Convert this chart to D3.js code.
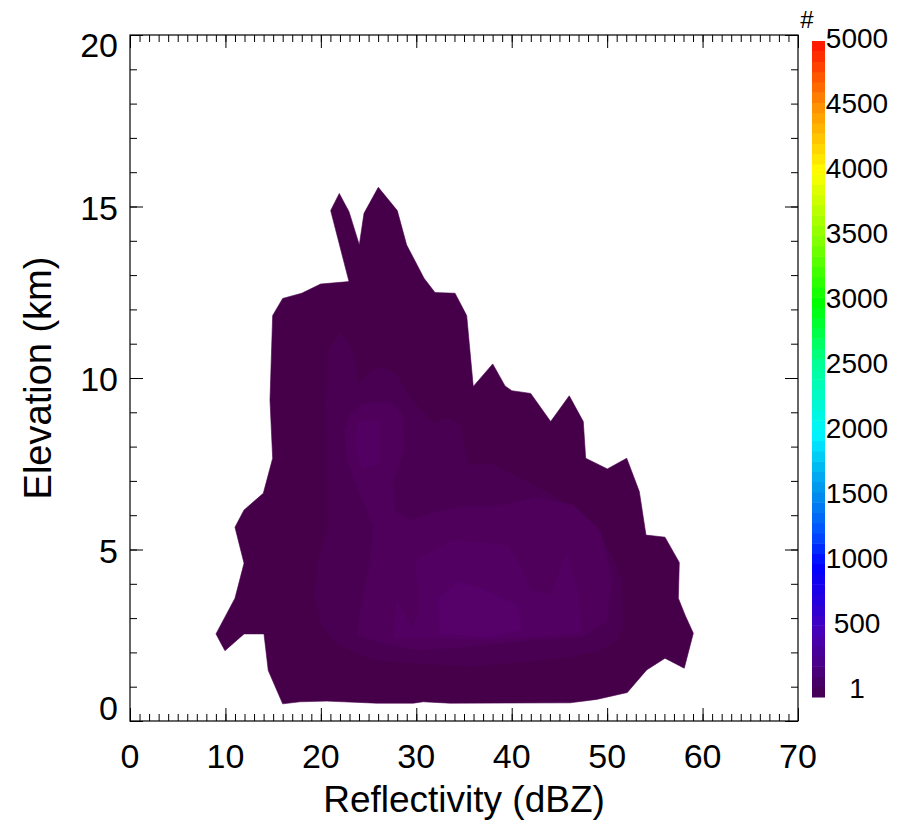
<!DOCTYPE html>
<html>
<head>
<meta charset="utf-8">
<script src="https://cdn.jsdelivr.net/npm/d3@7"></script>
<style>
  html, body { margin: 0; padding: 0; background: #fff; }
  svg { display: block; font-family: "Liberation Sans", Arial, sans-serif; }
</style>
</head>
<body>
<svg id="chart" width="910" height="821"></svg>
<script>
// ---------------- DATA ----------------
// Contour level polygons: [reflectivity dBZ, elevation km]
const levelA = [[16.00,0.50],[14.49,1.47],[14.04,2.54],[11.95,2.54],[9.95,2.05],[9.01,2.54],[11.00,3.58],[11.95,4.60],[11.00,5.65],[11.95,6.15],[13.97,6.64],[14.95,7.66],[14.67,9.36],[14.95,11.82],[16.00,12.32],[17.99,12.47],[19.98,12.74],[22.95,12.81],[21.03,14.88],[21.93,15.38],[22.95,14.85],[24.03,13.88],[24.52,14.80],[26.02,15.56],[28.01,14.88],[28.99,13.88],[30.81,12.91],[31.96,12.49],[34.06,12.47],[35.28,11.82],[35.97,9.75],[38.01,10.41],[39.30,9.77],[40.00,9.63],[41.99,9.55],[44.08,8.73],[46.03,9.48],[47.50,8.73],[47.75,7.66],[50.02,7.35],[52.05,7.66],[53.37,6.69],[54.07,5.42],[56.06,5.36],[57.56,4.62],[57.46,3.58],[58.16,3.09],[59.03,2.56],[58.08,1.54],[56.06,1.83],[54.14,1.49],[52.11,0.83],[48.90,0.63],[46.11,0.53],[33.53,0.52],[30.73,0.56],[29.69,0.52],[25.85,0.52],[20.61,0.58],[17.81,0.56]];
const levelB = [[22.01,11.31],[23.37,10.76],[23.89,9.80],[25.15,10.17],[26.20,10.32],[27.87,10.12],[29.34,9.42],[31.75,8.66],[33.22,8.83],[34.58,8.66],[35.42,7.43],[37.72,7.52],[40.87,7.08],[44.33,6.56],[47.15,6.06],[49.25,5.42],[50.72,4.64],[51.45,4.11],[51.66,2.80],[51.03,2.36],[49.25,2.07],[46.11,1.87],[40.87,1.72],[35.63,1.60],[28.29,1.72],[25.46,1.81],[22.01,2.19],[20.12,2.77],[19.39,3.62],[19.70,4.69],[20.75,5.66],[20.64,7.03],[20.54,9.36],[20.85,10.82]];
const levelC = [[23.05,8.92],[24.31,9.24],[27.24,9.30],[28.61,8.89],[28.71,7.90],[27.56,6.97],[27.87,6.09],[29.34,5.86],[31.96,6.09],[34.58,6.24],[38.77,6.27],[42.44,6.53],[46.42,6.30],[49.25,5.57],[50.51,4.11],[49.98,2.94],[47.47,2.45],[42.23,2.36],[35.31,2.16],[30.07,2.07],[26.51,2.27],[23.79,2.51],[24.10,3.15],[25.15,4.61],[25.46,5.71],[24.10,6.59],[22.74,7.61],[22.53,8.48]];
const levelD1 = [[29.86,4.69],[33.85,5.28],[39.61,5.13],[41.08,4.46],[41.92,3.82],[44.01,3.67],[45.79,4.90],[46.95,3.82],[47.36,2.59],[44.33,2.48],[37.41,2.36],[31.75,2.42],[27.56,2.42],[27.98,3.53],[29.55,2.71],[30.18,3.09],[30.07,4.11]];
const levelD2 = [[23.79,8.72],[26.20,8.78],[26.30,7.55],[24.31,7.32],[23.68,7.90]];
const levelE = [[32.27,3.53],[34.27,4.05],[36.68,3.88],[38.77,3.59],[40.55,3.44],[41.08,2.65],[37.41,2.45],[32.48,2.54]];

const levelPolys  = [levelA, levelB, levelC, levelD1, levelD2, levelE];
const levelColors = ["#46004a", "#4a0052", "#4e005a", "#520062", "#520062", "#56006a"];

const xTicks = [0, 10, 20, 30, 40, 50, 60, 70];
const yTicks = [0, 5, 10, 15, 20];
const cbTicks = [1, 500, 1000, 1500, 2000, 2500, 3000, 3500, 4000, 4500, 5000];
const cbStopValues = [0, 250, 500, 750, 1000, 1250, 1500, 1750, 2000, 2500, 3000, 3500, 4000, 4500, 5000];
const cbStopColors = ["#45004f", "#4a0085", "#4800b8", "#2400e0", "#0000ff", "#0050ff", "#0084ee", "#00b8f2", "#00f4ff", "#00ffa0", "#00ff00", "#88ff00", "#ffff00", "#ff9000", "#ff1000"];

// ---------------- LAYOUT ----------------
const svg = d3.select("#chart");
const L = 130, R = 798, T = 35, B = 721;
const x = d3.scaleLinear().domain([0, 70]).range([L, R]);
const y = d3.scaleLinear().domain([0, 20]).range([B, T]);

// contour fills
const line = d3.line().x(d => x(d[0])).y(d => y(d[1])).curve(d3.curveLinear);
const g = svg.append("g");
levelPolys.forEach((p, i) => {
  g.append("path").attr("d", line(p) + "Z").attr("fill", levelColors[i]).attr("stroke", levelColors[i]).attr("stroke-width", 0.6);
});

// axes (ticks pointing inward)
function styleAxis(sel) {
  sel.select(".domain").remove();
  sel.selectAll(".tick line").attr("stroke", "#000").attr("stroke-width", 1);
  sel.selectAll(".tick text").remove();
}
const minorX = d3.range(0, 71, 1), minorY = d3.range(0, 21, 1);
svg.append("g").attr("transform", `translate(0,${B})`).call(d3.axisBottom(x).tickValues(minorX).tickSize(-7)).call(styleAxis);
svg.append("g").attr("transform", `translate(0,${B})`).call(d3.axisBottom(x).tickValues(xTicks).tickSize(-13)).call(styleAxis);
svg.append("g").attr("transform", `translate(0,${T})`).call(d3.axisTop(x).tickValues(minorX).tickSize(-7)).call(styleAxis);
svg.append("g").attr("transform", `translate(0,${T})`).call(d3.axisTop(x).tickValues(xTicks).tickSize(-13)).call(styleAxis);
svg.append("g").attr("transform", `translate(${L},0)`).call(d3.axisLeft(y).tickValues(minorY).tickSize(-7)).call(styleAxis);
svg.append("g").attr("transform", `translate(${L},0)`).call(d3.axisLeft(y).tickValues(yTicks).tickSize(-13)).call(styleAxis);
svg.append("g").attr("transform", `translate(${R},0)`).call(d3.axisRight(y).tickValues(minorY).tickSize(-7)).call(styleAxis);
svg.append("g").attr("transform", `translate(${R},0)`).call(d3.axisRight(y).tickValues(yTicks).tickSize(-13)).call(styleAxis);

// frame
svg.append("rect").attr("x", L).attr("y", T).attr("width", R - L).attr("height", B - T)
  .attr("fill", "none").attr("stroke", "#000").attr("stroke-width", 1.2);

// tick labels
svg.append("g").selectAll("text").data(xTicks).join("text")
  .attr("x", d => x(d)).attr("y", 768).attr("text-anchor", "middle")
  .attr("font-size", 34).text(d => d);
svg.append("g").selectAll("text").data(yTicks).join("text")
  .attr("x", 118).attr("y", d => Math.min(Math.max(y(d) + 13, T + 22), B - 1))
  .attr("text-anchor", "end").attr("font-size", 34).text(d => d);

// axis titles
svg.append("text").attr("x", (L + R) / 2).attr("y", 812).attr("text-anchor", "middle")
  .attr("font-size", 37).text("Reflectivity (dBZ)");
svg.append("text").attr("transform", `translate(51,${(T + B) / 2}) rotate(-90)`)
  .attr("text-anchor", "middle").attr("font-size", 38).text("Elevation (km)");

// colorbar
const cmap = d3.scaleLinear().domain(cbStopValues).range(cbStopColors).interpolate(d3.interpolateRgb);
const cbY = d3.scaleLinear().domain([0, 5000]).range([697, 41]);
const nBands = 64;
const bandVals = d3.range(nBands).map(i => i * 5000 / nBands);
svg.append("g").selectAll("rect").data(bandVals).join("rect")
  .attr("x", 812).attr("width", 13)
  .attr("y", d => cbY(d + 5000 / nBands))
  .attr("height", d => cbY(d) - cbY(d + 5000 / nBands) + 0.5)
  .attr("fill", d => cmap(d + 2500 / nBands));
const cbLab = d3.scaleLinear().domain([0, 5000]).range([688, 38]);
svg.append("g").selectAll("text").data(cbTicks).join("text")
  .attr("x", 857).attr("y", d => cbLab(d) + 10).attr("text-anchor", "middle")
  .attr("font-size", 28).text(d => d);
svg.append("text").attr("x", 807).attr("y", 28).attr("text-anchor", "middle").attr("font-size", 24).text("#");
</script>
</body>
</html>
